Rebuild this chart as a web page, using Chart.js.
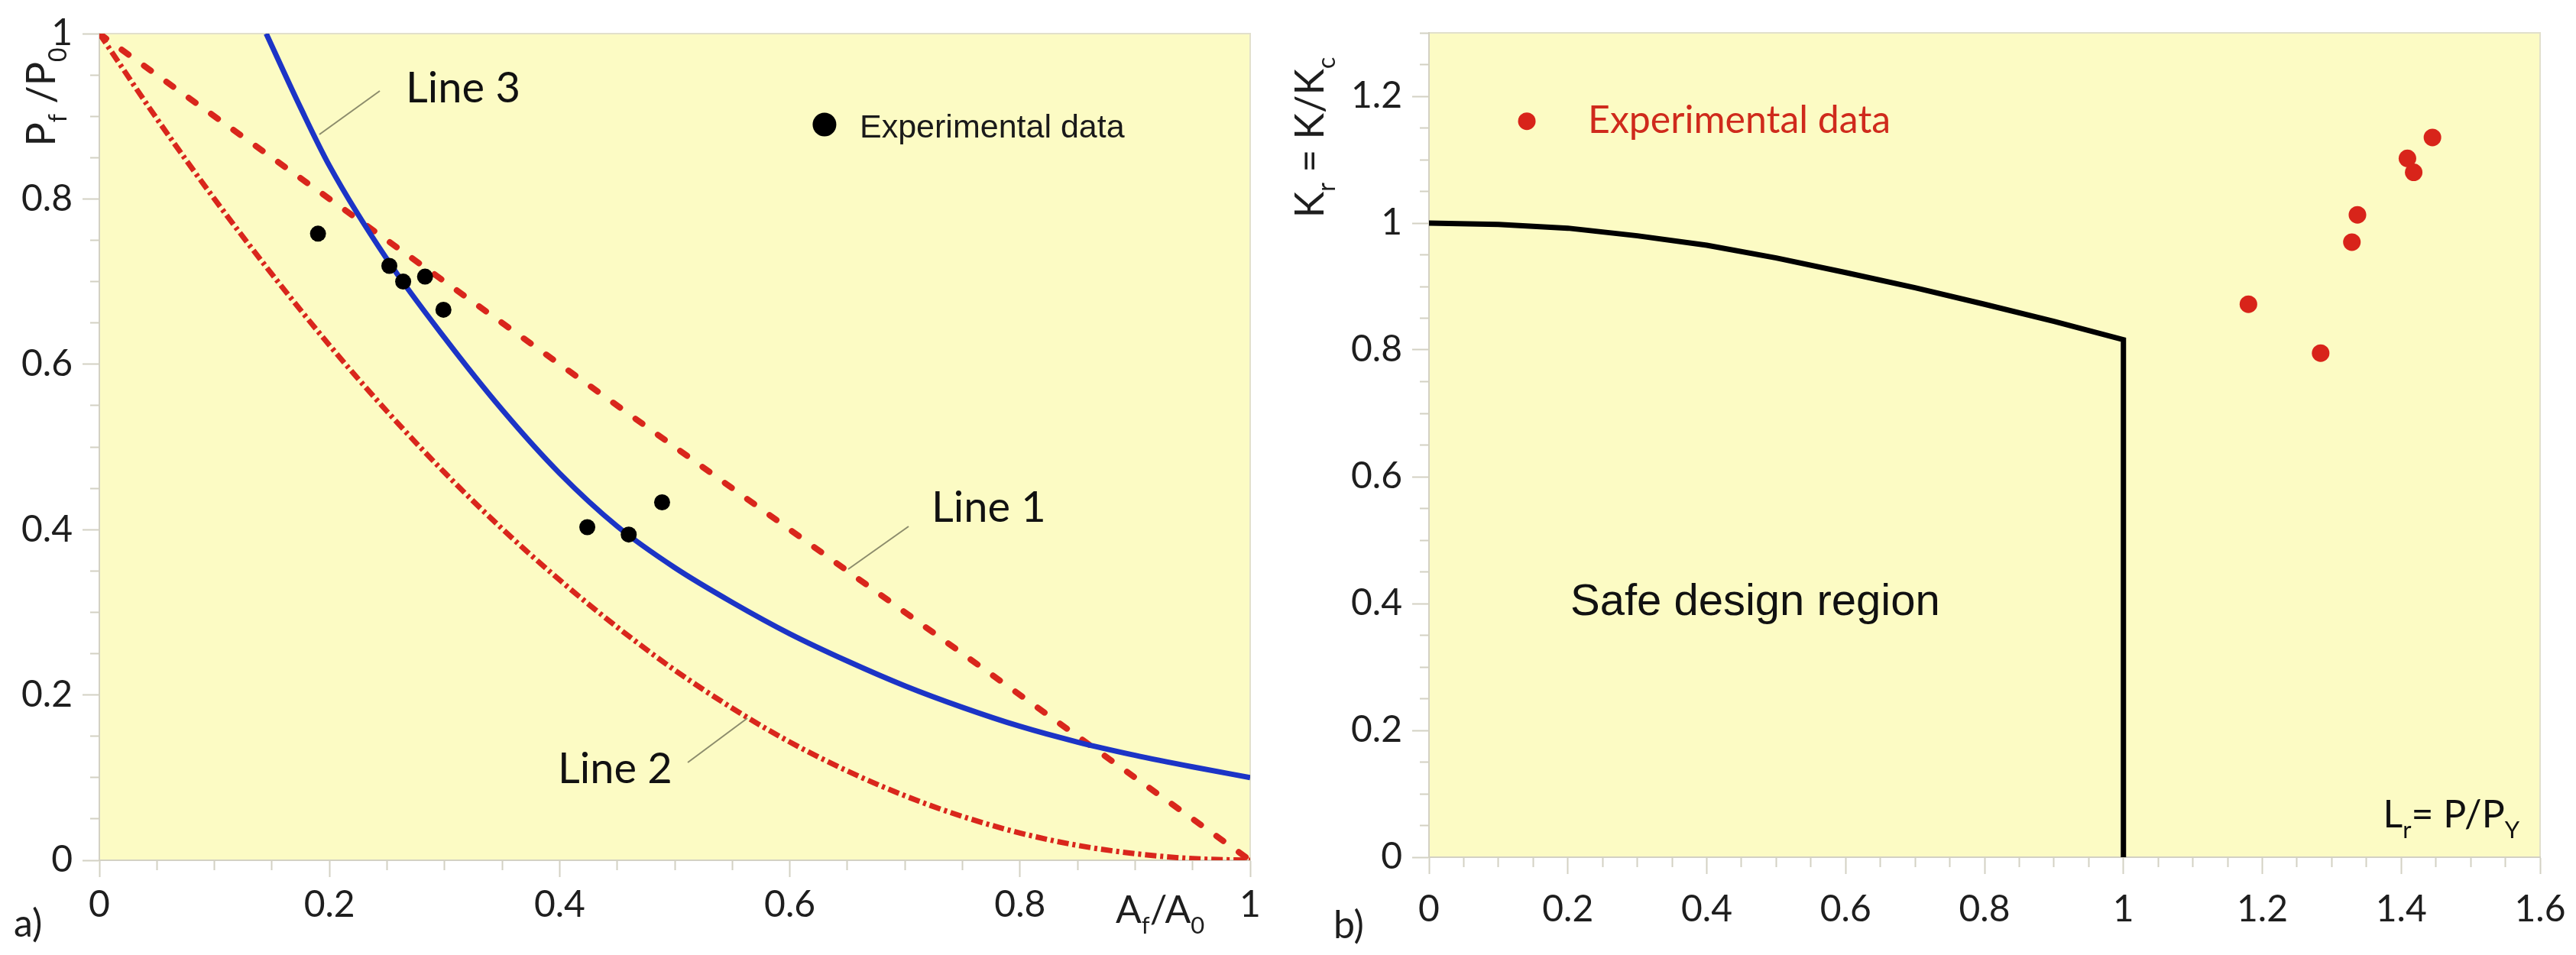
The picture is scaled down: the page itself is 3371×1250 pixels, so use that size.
<!DOCTYPE html>
<html>
<head>
<meta charset="utf-8">
<script src="https://cdn.jsdelivr.net/npm/chart.js@4/dist/chart.umd.min.js"></script>
<style>
  html, body { margin: 0; padding: 0; background: #ffffff; }
  body { width: 3371px; height: 1250px; position: relative; overflow: hidden; }
  canvas { position: absolute; top: 0; }
  #chartA { left: 0; }
  #chartB { left: 1660px; }
</style>
</head>
<body>
<canvas id="chartA" width="1660" height="1250"></canvas>
<canvas id="chartB" width="1711" height="1250"></canvas>
<script>
// ---------- Data: panel a) ----------
const line1X = [0, 1];
const line1Y = [1, 0];
const line2X = [0, 0.05, 0.1, 0.15, 0.2, 0.25, 0.3, 0.35, 0.4, 0.45, 0.5, 0.55, 0.6, 0.65, 0.7, 0.75, 0.8, 0.85, 0.9, 0.95, 1];
const line2Y = [1, 0.897, 0.800, 0.709, 0.623, 0.543, 0.469, 0.401, 0.339, 0.282, 0.230, 0.184, 0.143, 0.108, 0.078, 0.053, 0.033, 0.018, 0.008, 0.002, 0];
const line3X = [0.145, 0.175, 0.2, 0.25, 0.3, 0.35, 0.4, 0.45, 0.5, 0.55, 0.6, 0.65, 0.7, 0.75, 0.8, 0.85, 0.9, 0.95, 1.0];
const line3Y = [1.0, 0.91, 0.84, 0.727, 0.632, 0.545, 0.468, 0.404, 0.354, 0.312, 0.274, 0.241, 0.211, 0.185, 0.162, 0.143, 0.127, 0.113, 0.1];
const expAX = [0.190, 0.252, 0.264, 0.283, 0.299, 0.424, 0.460, 0.489];
const expAY = [0.758, 0.719, 0.700, 0.706, 0.666, 0.403, 0.394, 0.433];

// ---------- Data: panel b) ----------
const fadLr = [0, 0.1, 0.2, 0.3, 0.4, 0.5, 0.6, 0.7, 0.8, 0.9, 1.0, 1.0];
const fadKr = [1.0, 0.998, 0.992, 0.980, 0.965, 0.945, 0.922, 0.898, 0.872, 0.845, 0.816, 0];
const expBX = [1.180, 1.284, 1.329, 1.337, 1.409, 1.418, 1.445];
const expBY = [0.872, 0.795, 0.970, 1.013, 1.102, 1.080, 1.135];

const pts = (xs, ys) => xs.map((x, i) => ({ x: x, y: ys[i] }));

// ---------- helpers ----------
const TICKFONT = 'Lato';
const TICKCOL = '#1e1e1e';
const TICKMARK = '#d3d1c3';
const BG = '#fcfbc4';

function rich(ctx, parts, fs, fam) {
  let w = 0;
  parts.forEach(p => {
    ctx.font = (p[1] ? Math.round(fs * 0.62) : fs) + 'px ' + fam;
    w += ctx.measureText(p[0]).width;
  });
  return w;
}
function drawRich(ctx, parts, x, y, fs, fam, color) {
  ctx.fillStyle = color;
  ctx.textBaseline = 'alphabetic';
  ctx.textAlign = 'left';
  let cx = x;
  parts.forEach(p => {
    const sub = p[1];
    ctx.font = (sub ? Math.round(fs * 0.62) : fs) + 'px ' + fam;
    ctx.fillText(p[0], cx, y + (sub ? fs * 0.28 : 0));
    cx += ctx.measureText(p[0]).width;
  });
}

function tickLabel(v) {
  const r = Math.round(v * 20);
  if (r % 4 !== 0) return '';
  return String(Math.round(v * 10) / 10);
}
function isMajor(v) { return Math.round(v * 20) % 4 === 0; }

function makeScales(cfg) {
  return {
    x: {
      type: 'linear', min: cfg.xmin, max: cfg.xmax,
      border: { display: true, color: TICKMARK, width: 2 },
      grid: {
        drawOnChartArea: false, drawTicks: true, tickLength: 22, tickWidth: 2, tickColor: TICKMARK,
        tickBorderDash: c => (c.tick && isMajor(c.tick.value)) ? [] : [12, 100]
      },
      ticks: {
        stepSize: 0.05, maxTicksLimit: 200, autoSkip: false, maxRotation: 0, minRotation: 0,
        padding: cfg.xpad, color: TICKCOL, font: { family: TICKFONT, size: 48 },
        callback: v => tickLabel(v)
      },
      afterFit: s => { s.height = cfg.xh; s.paddingLeft = 0; s.paddingRight = 0; }
    },
    y: {
      type: 'linear', min: cfg.ymin, max: cfg.ymax,
      border: { display: true, color: TICKMARK, width: 2 },
      grid: {
        drawOnChartArea: false, drawTicks: true, tickLength: 22, tickWidth: 2, tickColor: TICKMARK,
        tickBorderDash: c => (c.tick && isMajor(c.tick.value)) ? [] : [0, 10, 12, 100]
      },
      ticks: {
        stepSize: 0.05, maxTicksLimit: 200, autoSkip: false,
        padding: 13, color: TICKCOL, font: { family: TICKFONT, size: 48 },
        callback: v => tickLabel(v)
      },
      afterFit: s => { s.width = cfg.yw; s.paddingTop = 0; s.paddingBottom = 0; }
    }
  };
}

const bgPlugin = {
  id: 'bg',
  beforeDraw(chart) {
    const a = chart.chartArea, ctx = chart.ctx;
    ctx.save();
    ctx.fillStyle = BG;
    ctx.fillRect(a.left, a.top, a.right - a.left, a.bottom - a.top);
    ctx.strokeStyle = '#e2e0cc';
    ctx.lineWidth = 2;
    ctx.strokeRect(a.left, a.top, a.right - a.left, a.bottom - a.top);
    ctx.restore();
  }
};

// ---------- annotations panel a ----------
const annA = {
  id: 'annA',
  afterDraw(chart) {
    const ctx = chart.ctx, xs = chart.scales.x, ys = chart.scales.y, a = chart.chartArea;
    const X = v => xs.getPixelForValue(v), Y = v => ys.getPixelForValue(v);
    ctx.save();
    // pointer lines
    ctx.strokeStyle = '#8c8c6c';
    ctx.lineWidth = 2;
    [[0.2437, 0.9307, 0.1912, 0.8780], [0.7032, 0.4039, 0.6507, 0.3521], [0.5113, 0.1183, 0.5631, 0.1719]].forEach(l => {
      ctx.beginPath(); ctx.moveTo(X(l[0]), Y(l[1])); ctx.lineTo(X(l[2]), Y(l[3])); ctx.stroke();
    });
    // line labels
    ctx.fillStyle = '#111';
    ctx.font = '56px Lato';
    ctx.textBaseline = 'alphabetic';
    ctx.textAlign = 'left';
    ctx.fillText('Line 3', X(0.2663), Y(0.9168));
    ctx.fillText('Line 1', X(0.7231), Y(0.4094));
    ctx.fillText('Line 2', X(0.3984), Y(0.0933));
    // legend
    ctx.beginPath(); ctx.arc(X(0.6301), Y(0.8900), 15.5, 0, Math.PI * 2); ctx.fillStyle = '#000'; ctx.fill();
    ctx.fillStyle = '#1a1a1a';
    ctx.font = '43px "Liberation Sans"';
    ctx.fillText('Experimental data', X(0.6607), Y(0.8743));
    // x title
    drawRich(ctx, [['A', 0], ['f', 1], ['/A', 0], ['0', 1]], X(0.8831), a.bottom + 82, 50, 'Lato', TICKCOL);
    // y title rotated
    const parts = [['P', 0], ['f', 1], [' /P', 0], ['0', 1]];
    const w = rich(ctx, parts, 52, 'Lato');
    ctx.save();
    ctx.translate(72, 127 + w / 2);
    ctx.rotate(-Math.PI / 2);
    drawRich(ctx, parts, 0, 0, 52, 'Lato', TICKCOL);
    ctx.restore();
    // panel letter
    ctx.fillStyle = TICKCOL;
    ctx.font = '50px Lato';
    ctx.fillText('a)', 18, 1226);
    ctx.restore();
  }
};

// ---------- annotations panel b ----------
const annB = {
  id: 'annB',
  afterDraw(chart) {
    const ctx = chart.ctx, xs = chart.scales.x, ys = chart.scales.y;
    const X = v => xs.getPixelForValue(v), Y = v => ys.getPixelForValue(v);
    ctx.save();
    // legend
    ctx.beginPath(); ctx.arc(X(0.1409), Y(1.1606), 11.5, 0, Math.PI * 2); ctx.fillStyle = '#d8241a'; ctx.fill();
    ctx.fillStyle = '#cf2a1c';
    ctx.font = '50px Lato';
    ctx.textBaseline = 'alphabetic';
    ctx.textAlign = 'left';
    ctx.fillText('Experimental data', X(0.2289), Y(1.1425));
    // region label
    ctx.fillStyle = '#111';
    ctx.font = '58px "Liberation Sans"';
    ctx.fillText('Safe design region', X(0.2036), Y(0.3816));
    // Lr label (right aligned)
    const lp = [['L', 0], ['r', 1], ['= P/P', 0], ['Y', 1]];
    const lw = rich(ctx, lp, 50, 'Lato');
    drawRich(ctx, lp, X(1.5703) - lw, Y(0.0471), 50, 'Lato', '#111');
    // y title rotated
    const parts = [['K', 0], ['r', 1], [' = K/K', 0], ['c', 1]];
    const w = rich(ctx, parts, 52, 'Lato');
    ctx.save();
    ctx.translate(72, 180 + w / 2);
    ctx.rotate(-Math.PI / 2);
    drawRich(ctx, parts, 0, 0, 52, 'Lato', TICKCOL);
    ctx.restore();
    // panel letter
    ctx.fillStyle = TICKCOL;
    ctx.font = '50px Lato';
    ctx.fillText('b)', 85, 1228);
    ctx.restore();
  }
};

Chart.defaults.font.family = 'Lato';

new Chart(document.getElementById('chartA'), {
  type: 'scatter',
  data: {
    datasets: [
      { label: 'Experimental data', data: pts(expAX, expAY), pointRadius: 10.5, pointBackgroundColor: '#000', pointBorderWidth: 0, showLine: false },
      { label: 'Line 3', data: pts(line3X, line3Y), showLine: true, borderColor: '#1c34c6', borderWidth: 7, pointRadius: 0, cubicInterpolationMode: 'monotone' },
      { label: 'Line 1', data: pts(line1X, line1Y), showLine: true, borderColor: '#d9261c', borderWidth: 8, borderDash: [11, 25], borderCapStyle: 'round', pointRadius: 0 },
      { label: 'Line 2', data: pts(line2X, line2Y), showLine: true, borderColor: '#d9261c', borderWidth: 7, borderDash: [15, 5, 4, 5], pointRadius: 0, cubicInterpolationMode: 'monotone' }
    ]
  },
  options: {
    responsive: false, devicePixelRatio: 1, animation: false,
    layout: { padding: { top: 44, right: 24, bottom: 0, left: 0 } },
    plugins: { legend: { display: false }, tooltip: { enabled: false } },
    scales: makeScales({ xmin: 0, xmax: 1, ymin: 0, ymax: 1, xh: 124, yw: 130, xpad: 8 })
  },
  plugins: [bgPlugin, annA]
});

new Chart(document.getElementById('chartB'), {
  type: 'scatter',
  data: {
    datasets: [
      { label: 'Experimental data', data: pts(expBX, expBY), pointRadius: 11.5, pointBackgroundColor: '#d8241a', pointBorderWidth: 0, showLine: false },
      { label: 'FAD', data: pts(fadLr, fadKr), showLine: true, borderColor: '#000', borderWidth: 7, pointRadius: 0, tension: 0, borderJoinStyle: 'miter' }
    ]
  },
  options: {
    responsive: false, devicePixelRatio: 1, animation: false,
    layout: { padding: { top: 43, right: 47, bottom: 0, left: 0 } },
    plugins: { legend: { display: false }, tooltip: { enabled: false } },
    scales: makeScales({ xmin: 0, xmax: 1.6, ymin: 0, ymax: 1.3, xh: 128, yw: 210, xpad: 18 })
  },
  plugins: [bgPlugin, annB]
});
</script>
</body>
</html>
